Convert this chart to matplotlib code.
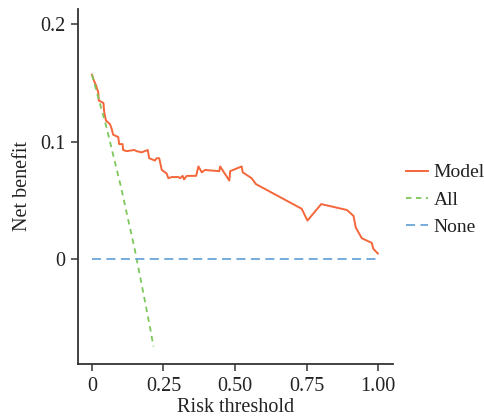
import matplotlib
matplotlib.use("Agg")
import matplotlib.pyplot as plt

plt.rcParams["font.family"] = ["Liberation Serif", "DejaVu Serif"]

# Model net benefit curve
model_t = [0.000, 0.007, 0.014, 0.022, 0.024, 0.040, 0.043, 0.049, 0.063, 0.069,
           0.074, 0.092, 0.095, 0.107, 0.109, 0.121, 0.148, 0.156, 0.174, 0.195,
           0.200, 0.220, 0.226, 0.235, 0.244, 0.261, 0.267, 0.279, 0.302, 0.308,
           0.317, 0.322, 0.331, 0.364, 0.372, 0.384, 0.395, 0.445, 0.448, 0.480,
           0.483, 0.523, 0.527, 0.558, 0.573, 0.733, 0.753, 0.801, 0.891, 0.914,
           0.922, 0.943, 0.978, 0.983, 0.999]
model_nb = [0.157, 0.152, 0.148, 0.142, 0.135, 0.133, 0.125, 0.118, 0.115, 0.111,
            0.106, 0.104, 0.098, 0.098, 0.093, 0.092, 0.093, 0.092, 0.091, 0.093,
            0.086, 0.084, 0.086, 0.086, 0.076, 0.073, 0.069, 0.070, 0.070, 0.069,
            0.071, 0.068, 0.071, 0.071, 0.079, 0.074, 0.076, 0.075, 0.079, 0.067,
            0.075, 0.079, 0.074, 0.069, 0.064, 0.043, 0.033, 0.047, 0.042, 0.037,
            0.027, 0.018, 0.014, 0.009, 0.005]

# Treat-all curve
all_t = [0.00, 0.05, 0.10, 0.15, 0.20, 0.215]
all_nb = [0.157, 0.113, 0.063, 0.008, -0.054, -0.074]

# Treat-none line
none_t = [0.0, 1.0]
none_nb = [0.0, 0.0]

fig = plt.figure(figsize=(4.84, 4.19), dpi=100)
ax = fig.add_axes([0.161, 0.131, 0.651, 0.848])

ax.plot(model_t, model_nb, color="#F5663A", lw=1.4, label="Model")
ax.plot(all_t, all_nb, color="#7CC85A", lw=1.3, dashes=(3, 2.5), label="All")
ax.plot(none_t, none_nb, color="#6AA6DA", lw=1.3, dashes=(5, 3), label="None")

ax.set_xlim(-0.049, 1.052)
ax.set_ylim(-0.089, 0.213)
ax.set_xticks([0, 0.25, 0.5, 0.75, 1.0])
ax.set_xticklabels(["0", "0.25", "0.50", "0.75", "1.00"])
ax.set_yticks([0, 0.1, 0.2])
ax.set_yticklabels(["0", "0.1", "0.2"])

for s in ["top", "right"]:
    ax.spines[s].set_visible(False)
for s in ["left", "bottom"]:
    ax.spines[s].set_color("#333333")
    ax.spines[s].set_linewidth(1.3)
ax.tick_params(direction="out", length=5, width=1.1, color="#333333",
               labelsize=14.5, labelcolor="#222222", pad=4)

ax.set_xlabel("Risk threshold", fontsize=14.5, color="#222222", labelpad=2)
ax.set_ylabel("Net benefit", fontsize=14.5, color="#222222", labelpad=6)

ax.legend(loc="center left", bbox_to_anchor=(1.041, 0.462), frameon=False,
          fontsize=14, handlelength=1.15, handletextpad=0.26, labelspacing=0.5,
          borderpad=0, borderaxespad=0, labelcolor="#222222")

fig.savefig("out.png", dpi=100)
